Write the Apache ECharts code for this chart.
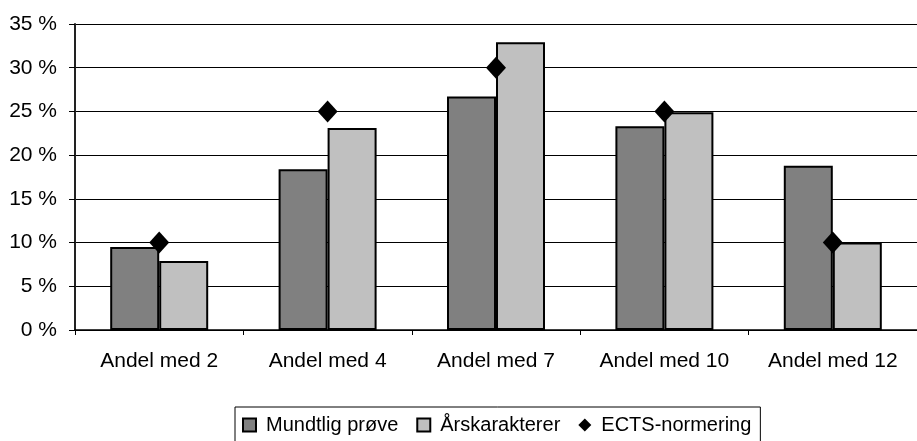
<!DOCTYPE html>
<html>
<head>
<meta charset="utf-8">
<script src="https://cdn.jsdelivr.net/npm/echarts@6/dist/echarts.min.js"></script>
<style>
  html, body { margin: 0; padding: 0; background: #fff; }
  #chart { width: 917px; height: 441px; }
</style>
</head>
<body>
<div id="chart"></div>
<script>
const categories = ["Andel med 2", "Andel med 4", "Andel med 7", "Andel med 10", "Andel med 12"];
const mundtlig = [9.5, 18.4, 26.7, 23.3, 18.8];
const aarskarakterer = [7.9, 23.1, 32.9, 24.9, 10.0];
const ects = [10, 25, 30, 25, 10];

const chart = echarts.init(document.getElementById("chart"));

const axisFont = { fontFamily: "Liberation Sans, Arial, sans-serif", fontSize: 21, color: "#000" };

chart.setOption({
  animation: false,
  backgroundColor: "#fff",
  grid: {
    left: 75,
    top: 24,
    width: 852,
    height: 306,
  },
  legend: {
    left: 235,
    top: 407,
    padding: [8, 9, 8, 7],
    borderColor: "#000",
    borderWidth: 1,
    itemWidth: 13,
    itemHeight: 13,
    itemGap: 18,
    textStyle: {
      fontFamily: "Liberation Sans, Arial, sans-serif",
      fontSize: 20,
      color: "#000",
      padding: [0, 0, 0, 5],
    },
    data: [
      { name: "Mundtlig prøve", icon: "rect" },
      { name: "Årskarakterer", icon: "rect" },
      { name: "ECTS-normering", icon: "diamond" },
    ],
  },
  xAxis: {
    type: "category",
    data: categories,
    boundaryGap: true,
    axisLine: { lineStyle: { color: "#000", width: 1.5 } },
    axisTick: { show: true, length: 5, interval: 0, lineStyle: { color: "#000" } },
    axisLabel: Object.assign({ margin: 21, interval: 0 }, axisFont),
    splitLine: { show: false },
  },
  yAxis: {
    type: "value",
    min: 0,
    max: 35,
    interval: 5,
    axisLine: { show: true, lineStyle: { color: "#222", width: 2 } },
    axisTick: { show: true, length: 6, lineStyle: { color: "#000" } },
    axisLabel: Object.assign({ margin: 18, formatter: "{value} %" }, axisFont),
    splitLine: { show: true, lineStyle: { color: "#000", width: 1 } },
  },
  series: [
    {
      name: "Mundtlig prøve",
      type: "bar",
      data: mundtlig,
      barWidth: 49,
      barGap: "0%",
      itemStyle: { color: "#808080", borderColor: "#000", borderWidth: 2 },
    },
    {
      name: "Årskarakterer",
      type: "bar",
      data: aarskarakterer,
      barWidth: 49,
      barGap: "0%",
      itemStyle: { color: "#c0c0c0", borderColor: "#000", borderWidth: 2 },
    },
    {
      name: "ECTS-normering",
      type: "line",
      data: ects,
      symbol: "diamond",
      symbolSize: [20, 22],
      lineStyle: { width: 0, opacity: 0 },
      itemStyle: { color: "#000", borderWidth: 0 },
      z: 5,
    },
  ],
});
</script>
</body>
</html>
